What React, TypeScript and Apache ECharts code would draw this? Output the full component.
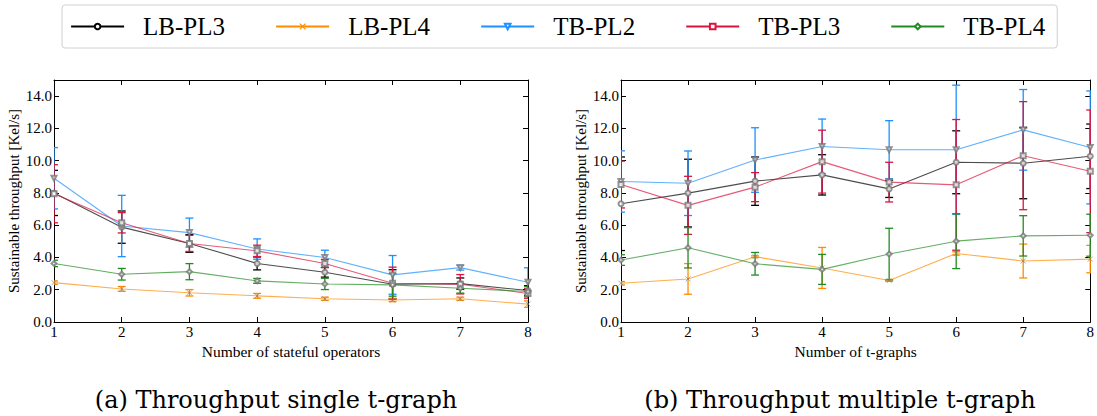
import React, { useEffect, useRef } from "react";
import * as echarts from "echarts";

const xValues = [1, 2, 3, 4, 5, 6, 7, 8];
const seriesNames = ["LB-PL3", "LB-PL4", "TB-PL2", "TB-PL3", "TB-PL4"];
const seriesColors = ["#000000", "#ff8c00", "#1e90ff", "#dc143c", "#228b22"];
const yTicks = [0, 2, 4, 6, 8, 10, 12, 14];

// (a) single t-graph
const lbpl3A = [8.0, 5.88, 4.87, 3.63, 3.08, 2.34, 2.38, 1.95];
const lbpl3AErr = [1.4, 1.0, 0.55, 0.4, 0.3, 0.9, 0.35, 0.3];
const lbpl4A = [2.44, 2.05, 1.81, 1.62, 1.44, 1.36, 1.44, 1.11];
const lbpl4AErr = [0.1, 0.15, 0.2, 0.15, 0.1, 0.1, 0.1, 0.2];
const tbpl2A = [8.91, 5.95, 5.54, 4.52, 4.0, 2.92, 3.37, 2.46];
const tbpl2AErr = [1.9, 1.9, 0.9, 0.63, 0.45, 1.2, 0.15, 0.9];
const tbpl3A = [7.95, 6.15, 4.87, 4.41, 3.63, 2.4, 2.34, 1.77];
const tbpl3AErr = [1.8, 0.63, 0.5, 0.35, 0.25, 1.0, 0.6, 0.3];
const tbpl4A = [3.63, 2.96, 3.12, 2.55, 2.36, 2.3, 2.09, 1.89];
const tbpl4AErr = [0.2, 0.36, 0.5, 0.15, 0.35, 0.7, 0.3, 0.3];

// (b) multiple t-graph
const lbpl3B = [7.33, 7.99, 8.73, 9.12, 8.25, 9.9, 9.84, 10.27];
const lbpl3BErr = [2.9, 2.1, 1.5, 1.25, 0.53, 1.95, 2.2, 2.0];
const lbpl4B = [2.4, 2.67, 4.05, 3.35, 2.57, 4.25, 3.78, 3.9];
const lbpl4BErr = [0.1, 0.95, 0.05, 1.27, 0.05, 0.1, 1.05, 0.85];
const tbpl2B = [8.71, 8.6, 10.04, 10.88, 10.68, 10.68, 11.91, 10.82];
const tbpl2BErr = [1.9, 2.0, 2.0, 1.7, 1.8, 4.0, 2.5, 3.5];
const tbpl3B = [8.52, 7.23, 8.36, 9.94, 8.67, 8.5, 10.31, 9.34];
const tbpl3BErr = [1.45, 1.8, 0.9, 1.95, 1.23, 4.05, 3.35, 3.8];
const tbpl4B = [3.84, 4.6, 3.61, 3.26, 4.21, 5.01, 5.34, 5.38];
const tbpl4BErr = [0.33, 1.25, 0.7, 0.93, 1.6, 1.7, 1.25, 1.3];

const valuesA = [lbpl3A, lbpl4A, tbpl2A, tbpl3A, tbpl4A];
const errsA = [lbpl3AErr, lbpl4AErr, tbpl2AErr, tbpl3AErr, tbpl4AErr];
const valuesB = [lbpl3B, lbpl4B, tbpl2B, tbpl3B, tbpl4B];
const errsB = [lbpl3BErr, lbpl4BErr, tbpl2BErr, tbpl3BErr, tbpl4BErr];

const xTitleA = "Number of stateful operators";
const xTitleB = "Number of t-graphs";
const yTitle = "Sustainable throughput [Kel/s]";
const captionA = "(a) Throughput single t-graph";
const captionB = "(b) Throughput multiple t-graph";

const symbols = [
  "emptyCircle",
  "path://M0,0L10,10M10,0L0,10",
  "emptyTriangle",
  "emptyRect",
  "emptyDiamond",
];
const symbolRotates = [0, 0, 180, 0, 0];

const FONT = "'Liberation Serif', 'Times New Roman', serif";

function makeAxes(gridIndex: number, xTitle: string) {
  const common = {
    gridIndex,
    type: "value" as const,
    axisLine: { show: true, onZero: false, lineStyle: { color: "#000", width: 1 } },
    axisTick: { show: true, inside: true, length: 5, lineStyle: { color: "#000" } },
    splitLine: { show: false },
  };
  const xAxes = [
    {
      ...common,
      position: "bottom",
      min: 1,
      max: 8,
      interval: 1,
      name: xTitle,
      nameLocation: "middle",
      nameGap: 21,
      nameTextStyle: { fontFamily: FONT, fontSize: 15.5, color: "#000" },
      axisLabel: { fontFamily: FONT, fontSize: 15, color: "#000", margin: 2 },
    },
    {
      ...common,
      position: "top",
      min: 1,
      max: 8,
      interval: 1,
      axisLabel: { show: false },
    },
  ];
  const yAxes = [
    {
      ...common,
      position: "left",
      min: yTicks[0],
      max: 15,
      interval: 2,
      name: yTitle,
      nameLocation: "middle",
      nameGap: 32,
      nameTextStyle: { fontFamily: FONT, fontSize: 15, color: "#000" },
      axisLabel: {
        fontFamily: FONT,
        fontSize: 15,
        color: "#000",
        margin: 2,
        showMaxLabel: false,
        formatter: (v: number) => v.toFixed(1),
      },
    },
    {
      ...common,
      position: "right",
      min: yTicks[0],
      max: 15,
      interval: 2,
      axisLabel: { show: false },
    },
  ];
  return { xAxes, yAxes };
}

function makeSeries(values: number[][], errs: number[][], axisBase: number) {
  const out: any[] = [];
  values.forEach((vals, i) => {
    const color = seriesColors[i];
    out.push({
      type: "custom",
      name: seriesNames[i] + " err",
      xAxisIndex: axisBase,
      yAxisIndex: axisBase,
      clip: true,
      z: 3,
      data: xValues.map((x, k) => [x, vals[k] - errs[i][k], vals[k] + errs[i][k]]),
      renderItem: (params: any, api: any) => {
        const x = api.value(0);
        const lo = api.coord([x, api.value(1)]);
        const hi = api.coord([x, api.value(2)]);
        const cw = 4;
        const st = { stroke: color, lineWidth: 1.3 };
        return {
          type: "group",
          children: [
            { type: "line", shape: { x1: lo[0], y1: lo[1], x2: hi[0], y2: hi[1] }, style: st },
            { type: "line", shape: { x1: hi[0] - cw, y1: hi[1], x2: hi[0] + cw, y2: hi[1] }, style: st },
            { type: "line", shape: { x1: lo[0] - cw, y1: lo[1], x2: lo[0] + cw, y2: lo[1] }, style: st },
          ],
        };
      },
    });
    out.push({
      type: "line",
      name: seriesNames[i],
      xAxisIndex: axisBase,
      yAxisIndex: axisBase,
      z: 4,
      data: xValues.map((x, k) => [x, vals[k]]),
      symbol: symbols[i],
      symbolRotate: symbolRotates[i],
      symbolSize: 5,
      showAllSymbol: true,
      lineStyle: { color, width: 1.1, opacity: 0.7 },
      itemStyle: { color: "#777", borderColor: "#777", borderWidth: 0.8, opacity: 0.8 },
    });
  });
  return out;
}

export default function App() {
  const ref = useRef<HTMLDivElement>(null);
  useEffect(() => {
    if (!ref.current) return;
    const chart = echarts.init(ref.current, undefined, { renderer: "svg" });
    const a = makeAxes(0, xTitleA);
    const b = makeAxes(1, xTitleB);
    chart.setOption({
      animation: false,
      backgroundColor: "#fff",
      legend: {
        data: seriesNames.map((n, i) => ({
          name: n,
          itemStyle: { color: seriesColors[i], borderColor: seriesColors[i], borderWidth: 1.2, opacity: 1 },
          lineStyle: { color: seriesColors[i], width: 2.2, opacity: 1 },
        })),
        left: 62,
        top: 5,
        itemWidth: 53,
        itemHeight: 7,
        itemGap: 50,
        padding: [9, 12, 9, 8],
        borderColor: "#d0d0d0",
        borderWidth: 1,
        borderRadius: 3,
        textStyle: { fontFamily: FONT, fontSize: 25, color: "#000", padding: [0, 0, 0, 14] },
      },
      grid: [
        { left: 54, top: 80, width: 474, height: 242 },
        { left: 621, top: 80, width: 473, height: 242 },
      ],
      xAxis: [...a.xAxes, ...b.xAxes],
      yAxis: [...a.yAxes, ...b.yAxes],
      series: [...makeSeries(valuesA, errsA, 0), ...makeSeries(valuesB, errsB, 2)],
      graphic: [
        {
          type: "text",
          x: 276,
          y: 400,
          style: {
            text: captionA,
            fontFamily: "DejaVu Serif",
            fontSize: 24,
            fill: "#000",
            align: "center",
            verticalAlign: "middle",
          },
        },
        {
          type: "text",
          x: 840,
          y: 400,
          style: {
            text: captionB,
            fontFamily: "DejaVu Serif",
            fontSize: 24,
            fill: "#000",
            align: "center",
            verticalAlign: "middle",
          },
        },
      ],
    });
    return () => chart.dispose();
  }, []);
  return (
    <div
      ref={ref}
      style={{ position: "fixed", left: 0, top: 0, width: 1097, height: 416 }}
    />
  );
}
